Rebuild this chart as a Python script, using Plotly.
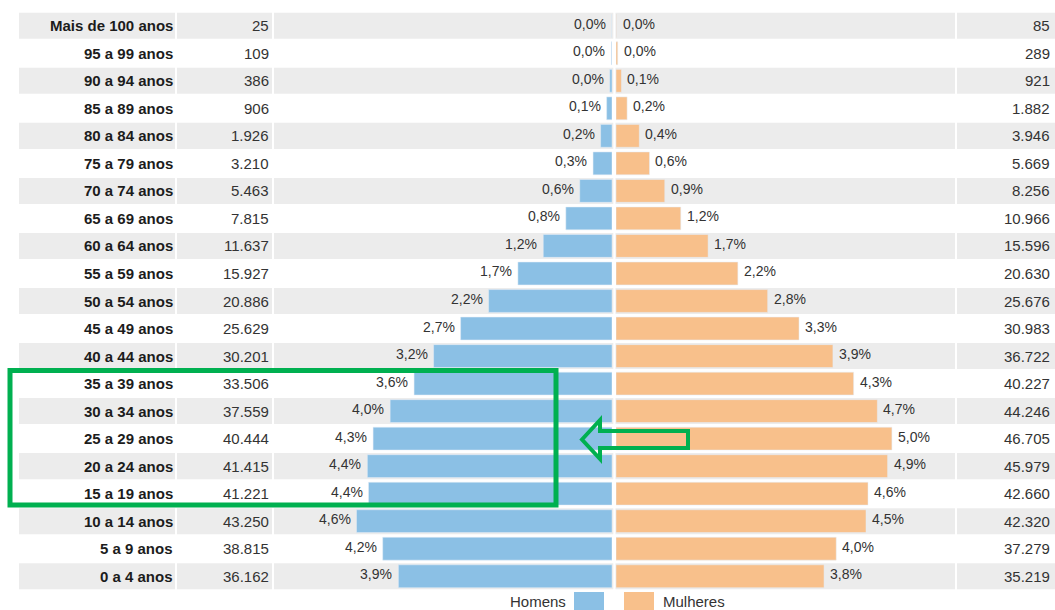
import plotly.graph_objects as go

ages = ['Mais de 100 anos', '95 a 99 anos', '90 a 94 anos', '85 a 89 anos', '80 a 84 anos',
        '75 a 79 anos', '70 a 74 anos', '65 a 69 anos', '60 a 64 anos', '55 a 59 anos',
        '50 a 54 anos', '45 a 49 anos', '40 a 44 anos', '35 a 39 anos', '30 a 34 anos',
        '25 a 29 anos', '20 a 24 anos', '15 a 19 anos', '10 a 14 anos', '5 a 9 anos', '0 a 4 anos']
homens = [25, 109, 386, 906, 1926, 3210, 5463, 7815, 11637, 15927, 20886, 25629, 30201,
          33506, 37559, 40444, 41415, 41221, 43250, 38815, 36162]
mulheres = [85, 289, 921, 1882, 3946, 5669, 8256, 10966, 15596, 20630, 25676, 30983, 36722,
            40227, 44246, 46705, 45979, 42660, 42320, 37279, 35219]
legend_names = ['Homens', 'Mulheres']

W, H = 1055, 610
BLUE = '#8bc0e5'
ORANGE = '#f8c08b'
GRAY = '#ececec'
GREEN = '#00b050'
TXT = '#333333'
FONT = 'Arial, Liberation Sans, sans-serif'
PX_PER_PCT = 55.1

total = sum(homens) + sum(mulheres)
pct_h = [v / total * 100 for v in homens]
pct_m = [v / total * 100 for v in mulheres]


def px(x):
    return x / W


def py(y):
    return 1 - y / H


def fmt_int(v):
    return f'{v:,}'.replace(',', '.')


def fmt_pct(v):
    return f'{v:.1f}%'.replace('.', ',')


fig = go.Figure()
fig.add_trace(go.Bar(y=ages, x=pct_h, orientation='h', marker_color=BLUE, width=0.83,
                     xaxis='x', yaxis='y', name='Homens', showlegend=False, hoverinfo='skip'))
fig.add_trace(go.Bar(y=ages, x=pct_m, orientation='h', marker_color=ORANGE, width=0.83,
                     xaxis='x2', yaxis='y', name='Mulheres', showlegend=False, hoverinfo='skip'))

shapes = []
annotations = []
n = len(ages)
cols = [(19, 175), (177, 272), (274, 613.3), (615.5, 955), (957, 1055)]
for i, age in enumerate(ages):
    pos = n - 1 - i
    if i % 2 == 0:
        for x0, x1 in cols:
            shapes.append(dict(type='rect', xref='paper', yref='y', x0=px(x0), x1=px(x1),
                               y0=pos - 0.473, y1=pos + 0.473, fillcolor=GRAY,
                               line_width=0, layer='below'))
    annotations.append(dict(xref='paper', yref='y', x=px(175), y=age, text=f'<b>{age}</b>',
                            xanchor='right', yanchor='middle', showarrow=False,
                            font=dict(size=15, color='#1c1c1c', family=FONT)))
    annotations.append(dict(xref='paper', yref='y', x=px(271), y=age, text=fmt_int(homens[i]),
                            xanchor='right', yanchor='middle', showarrow=False,
                            font=dict(size=15, color=TXT, family=FONT)))
    annotations.append(dict(xref='paper', yref='y', x=px(1052), y=age, text=fmt_int(mulheres[i]),
                            xanchor='right', yanchor='middle', showarrow=False,
                            font=dict(size=15, color=TXT, family=FONT)))
    annotations.append(dict(xref='x', yref='y', x=pct_h[i], y=age, text=fmt_pct(pct_h[i]),
                            xanchor='right', yanchor='middle', xshift=-4, yshift=2,
                            showarrow=False, font=dict(size=14, color=TXT, family=FONT)))
    annotations.append(dict(xref='x2', yref='y', x=pct_m[i], y=age, text=fmt_pct(pct_m[i]),
                            xanchor='left', yanchor='middle', xshift=4, yshift=2,
                            showarrow=False, font=dict(size=14, color=TXT, family=FONT)))

# custom legend
annotations.append(dict(xref='paper', yref='paper', x=px(568), y=py(601), text=legend_names[0],
                        xanchor='right', yanchor='middle', showarrow=False,
                        font=dict(size=15, color=TXT, family=FONT)))
annotations.append(dict(xref='paper', yref='paper', x=px(661), y=py(601), text=legend_names[1],
                        xanchor='left', yanchor='middle', showarrow=False,
                        font=dict(size=15, color=TXT, family=FONT)))
shapes.append(dict(type='rect', xref='paper', yref='paper', x0=px(574), x1=px(604),
                   y0=py(612), y1=py(592), fillcolor=BLUE, line_width=0))
shapes.append(dict(type='rect', xref='paper', yref='paper', x0=px(624), x1=px(654),
                   y0=py(612), y1=py(592), fillcolor=ORANGE, line_width=0))

# green highlight box and arrow
shapes.append(dict(type='rect', xref='paper', yref='paper', x0=px(10), x1=px(556),
                   y0=py(505), y1=py(370.5), line=dict(color=GREEN, width=5),
                   fillcolor='rgba(0,0,0,0)'))
arrow = [(582, 439.5), (600, 420), (600, 431), (688, 431), (688, 448), (600, 448), (600, 459)]
path = 'M ' + ' L '.join(f'{px(x):.5f},{py(y):.5f}' for x, y in arrow) + ' Z'
shapes.append(dict(type='path', xref='paper', yref='paper', path=path,
                   line=dict(color=GREEN, width=4), fillcolor='rgba(0,0,0,0)'))

fig.update_layout(
    width=W, height=H,
    margin=dict(l=0, r=0, t=0, b=0),
    paper_bgcolor='white', plot_bgcolor='rgba(0,0,0,0)',
    barmode='overlay',
    xaxis=dict(domain=[px(274), px(612)], range=[338 / PX_PER_PCT, 0], visible=False,
               anchor='y', fixedrange=True),
    xaxis2=dict(domain=[px(616), px(955)], range=[0, 339 / PX_PER_PCT], visible=False,
                anchor='y', fixedrange=True),
    yaxis=dict(domain=[py(590), py(12)], range=[-0.5, n - 0.5], type='category',
               categoryorder='array', categoryarray=ages[::-1], visible=False,
               anchor='x', fixedrange=True),
    shapes=shapes,
    annotations=annotations,
    showlegend=False,
)

fig.write_html('out.html', config={'displayModeBar': False},
               post_script="document.body.style.margin='0';document.body.style.overflow='hidden';")
